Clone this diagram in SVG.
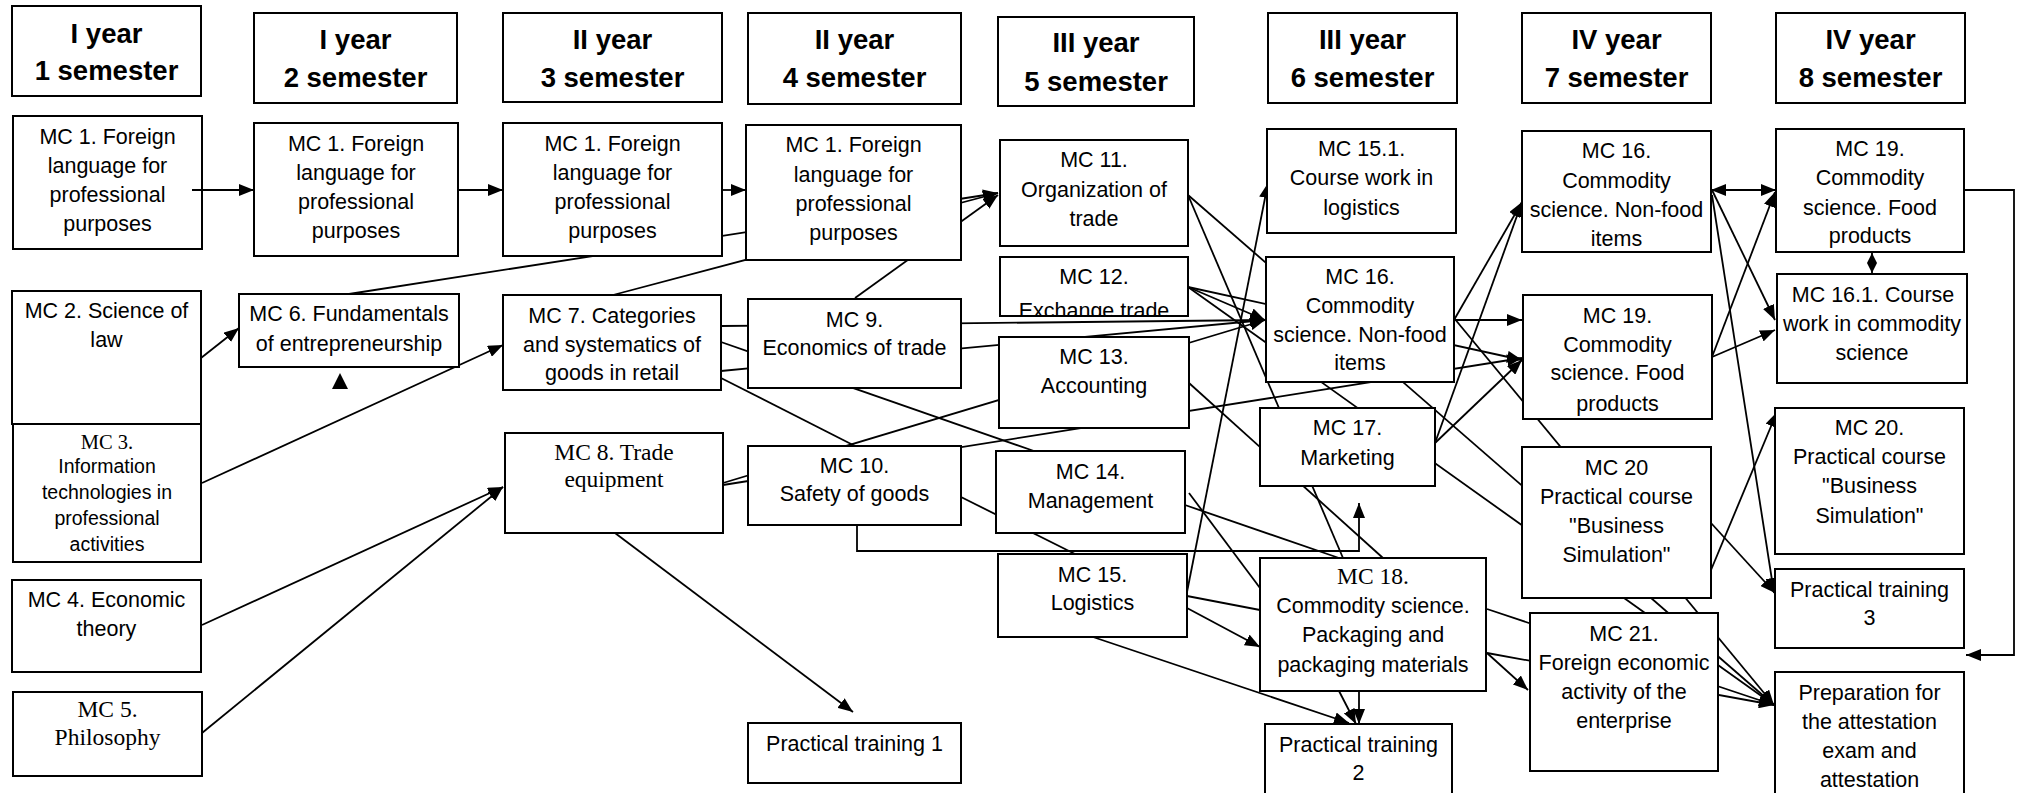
<svg xmlns="http://www.w3.org/2000/svg" width="2020" height="793" viewBox="0 0 2020 793">
<style>
.box{fill:#fff;stroke:#000;stroke-width:2}
.t{font-family:"Liberation Sans",Arial,sans-serif;font-size:21.5px;fill:#000;text-anchor:middle}
.h{font-weight:bold;font-size:27.5px}
.s{font-family:"Liberation Serif","Times New Roman",serif;font-size:23.5px}
.sm{font-size:19.5px}
.ln{stroke:#000;stroke-width:1.8;fill:none}
.ar{marker-end:url(#ah)}
.dbl{marker-start:url(#ah);marker-end:url(#ah)}
.dbs{marker-start:url(#ahs);marker-end:url(#ahs)}
</style>
<defs>
<marker id="ah" markerUnits="userSpaceOnUse" markerWidth="15" markerHeight="12" viewBox="0 0 15 12" refX="15" refY="6" orient="auto-start-reverse"><path d="M0,0 L15,6 L0,12 z" fill="#000"/></marker>
<marker id="ahs" markerUnits="userSpaceOnUse" markerWidth="10" markerHeight="10" viewBox="0 0 10 10" refX="10" refY="5" orient="auto-start-reverse"><path d="M0,0 L10,5 L0,10 z" fill="#000"/></marker>
<clipPath id="clip12"><rect x="1000" y="257" width="188" height="59"/></clipPath>
</defs>
<rect x="0" y="0" width="2020" height="793" fill="#fff"/>

<g id="connectors">
<path class="ln ar" d="M458,190 L503,190"/>
<path class="ln ar" d="M722,190 L746,190"/>
<path class="ln ar" d="M201,358 L239,328"/>
<path class="ln ar" d="M349,294 L998,193"/>
<path class="ln ar" d="M613,295 L998,193"/>
<path class="ln ar" d="M855,298 L998,195"/>
<path class="ln ar" d="M202,483 L503,345"/>
<path class="ln ar" d="M202,625 L503,487"/>
<path class="ln ar" d="M202,733 L503,487"/>
<path class="ln ar" d="M723,483 L1265,320"/>
<path class="ln ar" d="M723,485 L1522,358"/>
<path class="ln ar" d="M615,533 L853,712"/>
<path class="ln ar" d="M857,525 L857,551 L1359,551 L1359,503"/>
<path class="ln ar" d="M721,326 L1265,320"/>
<path class="ln" d="M721,342 L1034,451"/>
<path class="ln ar" d="M721,371 L1265,320"/>
<path class="ln" d="M721,378 L855,446"/>
<path class="ln" d="M961,497 L1075,554"/>
<path class="ln ar" d="M1188,195 L1774,705"/>
<path class="ln" d="M1188,195 L1343,558"/>
<path class="ln ar" d="M1188,287 L1522,360"/>
<path class="ln ar" d="M1188,287 L1265,320"/>
<path class="ln ar" d="M1188,287 L1774,705"/>
<path class="ln" d="M1189,383 L1383,558"/>
<path class="ln ar" d="M1187,592 L1268,183"/>
<path class="ln" d="M1187,596 L1260,610"/>
<path class="ln ar" d="M1187,608 L1260,647"/>
<path class="ln ar" d="M1093,637 L1349,723"/>
<path class="ln" d="M1185,505 L1339,558"/>
<path class="ln" d="M1189,493 L1260,588"/>
<path class="ln ar" d="M1454,320 L1522,320"/>
<path class="ln ar" d="M1454,320 L1522,202"/>
<path class="ln ar" d="M1454,318 L1774,705"/>
<path class="ln ar" d="M1435,443 L1522,202"/>
<path class="ln ar" d="M1435,443 L1522,360"/>
<path class="ln ar" d="M1487,609 L1774,705"/>
<path class="ln ar" d="M1487,653 L1774,705"/>
<path class="ln ar" d="M1487,653 L1528,690"/>
<path class="ln ar" d="M1359,691 L1359,724"/>
<path class="ln ar" d="M1339,691 L1356,724"/>
<path class="ln dbl" d="M1711,190 L1776,190"/>
<path class="ln ar" d="M1712,190 L1775,320"/>
<path class="ln ar" d="M1712,195 L1774,593"/>
<path class="ln ar" d="M1712,357 L1775,192"/>
<path class="ln ar" d="M1712,357 L1775,330"/>
<path class="ln dbs" d="M1872,253 L1872,273"/>
<path class="ln ar" d="M1711,570 L1777,412"/>
<path class="ln ar" d="M1711,523 L1775,593"/>
<path class="ln ar" d="M1964,190 L2014,190 L2014,655 L1966,655"/>
<polygon points="340,373 332,389 348,389" fill="#000"/>
</g>

<g id="h1"><rect class="box" x="12" y="6" width="189" height="90"/><text class="t h" x="106.5" y="43">I year</text><text class="t h" x="106.5" y="80">1 semester</text></g>
<g id="h2"><rect class="box" x="254" y="13" width="203" height="90"/><text class="t h" x="355.5" y="49">I year</text><text class="t h" x="355.5" y="87">2 semester</text></g>
<g id="h3"><rect class="box" x="503" y="13" width="219" height="89"/><text class="t h" x="612.5" y="49">II year</text><text class="t h" x="612.5" y="87">3 semester</text></g>
<g id="h4"><rect class="box" x="748" y="13" width="213" height="91"/><text class="t h" x="854.5" y="49">II year</text><text class="t h" x="854.5" y="87">4 semester</text></g>
<g id="h5"><rect class="box" x="998" y="17" width="196" height="89"/><text class="t h" x="1096" y="52">III year</text><text class="t h" x="1096" y="91">5 semester</text></g>
<g id="h6"><rect class="box" x="1268" y="13" width="189" height="90"/><text class="t h" x="1362.5" y="49">III year</text><text class="t h" x="1362.5" y="87">6 semester</text></g>
<g id="h7"><rect class="box" x="1522" y="13" width="189" height="90"/><text class="t h" x="1616.5" y="49">IV year</text><text class="t h" x="1616.5" y="87">7 semester</text></g>
<g id="h8"><rect class="box" x="1776" y="13" width="189" height="90"/><text class="t h" x="1870.5" y="49">IV year</text><text class="t h" x="1870.5" y="87">8 semester</text></g>

<g id="mc1-s1"><rect class="box" x="13" y="116" width="189" height="133"/><text class="t" x="107.5" y="144">MC 1. Foreign</text><text class="t" x="107.5" y="173">language for</text><text class="t" x="107.5" y="202">professional</text><text class="t" x="107.5" y="231">purposes</text></g>
<g id="mc1-s2"><rect class="box" x="254" y="123" width="204" height="133"/><text class="t" x="356" y="151">MC 1. Foreign</text><text class="t" x="356" y="180">language for</text><text class="t" x="356" y="209">professional</text><text class="t" x="356" y="238">purposes</text></g>
<g id="mc1-s3"><rect class="box" x="503" y="123" width="219" height="133"/><text class="t" x="612.5" y="151">MC 1. Foreign</text><text class="t" x="612.5" y="180">language for</text><text class="t" x="612.5" y="209">professional</text><text class="t" x="612.5" y="238">purposes</text></g>
<g id="mc1-s4"><rect class="box" x="746" y="125" width="215" height="135"/><text class="t" x="853.5" y="152">MC 1. Foreign</text><text class="t" x="853.5" y="182">language for</text><text class="t" x="853.5" y="211">professional</text><text class="t" x="853.5" y="240">purposes</text></g>

<g id="mc2"><rect class="box" x="12" y="291" width="189" height="133"/><text class="t" x="106.5" y="318">MC 2. Science of</text><text class="t" x="106.5" y="347">law</text></g>
<g id="mc3"><rect class="box" x="13" y="424" width="188" height="138"/><text class="t s" style="font-size:20.5px" x="107" y="449">MC 3.</text><text class="t sm" x="107" y="473">Information</text><text class="t sm" x="107" y="499">technologies in</text><text class="t sm" x="107" y="525">professional</text><text class="t sm" x="107" y="551">activities</text></g>
<g id="mc4"><rect class="box" x="12" y="580" width="189" height="92"/><text class="t" x="106.5" y="607">MC 4. Economic</text><text class="t" x="106.5" y="636">theory</text></g>
<g id="mc5"><rect class="box" x="13" y="692" width="189" height="84"/><text class="t s" x="107.5" y="717">MC 5.</text><text class="t s" x="107.5" y="745">Philosophy</text></g>

<g id="mc6"><rect class="box" x="239" y="294" width="220" height="73"/><text class="t" x="349" y="321">MC 6. Fundamentals</text><text class="t" x="349" y="351">of entrepreneurship</text></g>
<g id="mc7"><rect class="box" x="503" y="295" width="218" height="95"/><text class="t" x="612" y="323">MC 7. Categories</text><text class="t" x="612" y="352">and systematics of</text><text class="t" x="612" y="380">goods in retail</text></g>
<g id="mc8"><rect class="box" x="505" y="433" width="218" height="100"/><text class="t s" x="614" y="460">MC 8. Trade</text><text class="t s" x="614" y="487">equipment</text></g>
<g id="mc9"><rect class="box" x="748" y="299" width="213" height="89"/><text class="t" x="854.5" y="327">MC 9.</text><text class="t" x="854.5" y="355">Economics of trade</text></g>
<g id="mc10"><rect class="box" x="748" y="446" width="213" height="79"/><text class="t" x="854.5" y="473">MC 10.</text><text class="t" x="854.5" y="501">Safety of goods</text></g>
<g id="pt1"><rect class="box" x="748" y="723" width="213" height="60"/><text class="t" x="854.5" y="751">Practical training 1</text></g>

<g id="mc11"><rect class="box" x="1000" y="140" width="188" height="106"/><text class="t" x="1094" y="167">MC 11.</text><text class="t" x="1094" y="197">Organization of</text><text class="t" x="1094" y="226">trade</text></g>
<g id="mc12"><rect class="box" x="1000" y="257" width="188" height="59"/><text class="t" x="1094" y="284">MC 12.</text><text class="t" x="1094" y="318" clip-path="url(#clip12)">Exchange trade</text><rect x="1000" y="257" width="188" height="59" fill="none" stroke="#000" stroke-width="2"/></g>
<g id="mc13"><rect class="box" x="999" y="337" width="190" height="91"/><text class="t" x="1094" y="364">MC 13.</text><text class="t" x="1094" y="393">Accounting</text></g>
<g id="mc14"><rect class="box" x="996" y="451" width="189" height="82"/><text class="t" x="1090.5" y="479">MC 14.</text><text class="t" x="1090.5" y="508">Management</text></g>
<g id="mc15"><rect class="box" x="998" y="554" width="189" height="83"/><text class="t" x="1092.5" y="582">MC 15.</text><text class="t" x="1092.5" y="610">Logistics</text></g>

<g id="mc15-1"><rect class="box" x="1267" y="129" width="189" height="104"/><text class="t" x="1361.5" y="156">MC 15.1.</text><text class="t" x="1361.5" y="185">Course work in</text><text class="t" x="1361.5" y="215">logistics</text></g>
<g id="mc16-s6"><rect class="box" x="1266" y="257" width="188" height="125"/><text class="t" x="1360" y="284">MC 16.</text><text class="t" x="1360" y="313">Commodity</text><text class="t" x="1360" y="342">science. Non-food</text><text class="t" x="1360" y="370">items</text></g>
<g id="mc17"><rect class="box" x="1260" y="408" width="175" height="78"/><text class="t" x="1347.5" y="435">MC 17.</text><text class="t" x="1347.5" y="465">Marketing</text></g>
<g id="mc18"><rect class="box" x="1260" y="558" width="226" height="133"/><text class="t s" x="1373" y="584">MC 18.</text><text class="t" x="1373" y="613">Commodity science.</text><text class="t" x="1373" y="642">Packaging and</text><text class="t" x="1373" y="672">packaging materials</text></g>
<g id="pt2"><rect class="box" x="1265" y="724" width="187" height="75"/><text class="t" x="1358.5" y="752">Practical training</text><text class="t" x="1358.5" y="780">2</text></g>

<g id="mc16-s7"><rect class="box" x="1522" y="131" width="189" height="121"/><text class="t" x="1616.5" y="158">MC 16.</text><text class="t" x="1616.5" y="188">Commodity</text><text class="t" x="1616.5" y="217">science. Non-food</text><text class="t" x="1616.5" y="246">items</text></g>
<g id="mc19-s7"><rect class="box" x="1523" y="295" width="189" height="124"/><text class="t" x="1617.5" y="323">MC 19.</text><text class="t" x="1617.5" y="352">Commodity</text><text class="t" x="1617.5" y="380">science. Food</text><text class="t" x="1617.5" y="411">products</text></g>
<g id="mc20-s7"><rect class="box" x="1522" y="447" width="189" height="151"/><text class="t" x="1616.5" y="475">MC 20</text><text class="t" x="1616.5" y="504">Practical course</text><text class="t" x="1616.5" y="533">"Business</text><text class="t" x="1616.5" y="562">Simulation"</text></g>
<g id="mc21"><rect class="box" x="1530" y="613" width="188" height="158"/><text class="t" x="1624" y="641">MC 21.</text><text class="t" x="1624" y="670">Foreign economic</text><text class="t" x="1624" y="699">activity of the</text><text class="t" x="1624" y="728">enterprise</text></g>

<g id="mc19-s8"><rect class="box" x="1776" y="129" width="188" height="123"/><text class="t" x="1870" y="156">MC 19.</text><text class="t" x="1870" y="185">Commodity</text><text class="t" x="1870" y="215">science. Food</text><text class="t" x="1870" y="243">products</text></g>
<g id="mc16-1"><rect class="box" x="1777" y="274" width="190" height="109"/><text class="t" x="1873" y="302">MC 16.1. Course</text><text class="t" x="1872" y="331">work in commodity</text><text class="t" x="1872" y="360">science</text></g>
<g id="mc20-s8"><rect class="box" x="1775" y="408" width="189" height="146"/><text class="t" x="1869.5" y="435">MC 20.</text><text class="t" x="1869.5" y="464">Practical course</text><text class="t" x="1869.5" y="493">"Business</text><text class="t" x="1869.5" y="523">Simulation"</text></g>
<g id="pt3"><rect class="box" x="1775" y="569" width="189" height="79"/><text class="t" x="1869.5" y="597">Practical training</text><text class="t" x="1869.5" y="625">3</text></g>
<g id="prep"><rect class="box" x="1775" y="672" width="189" height="126"/><text class="t" x="1869.5" y="700">Preparation for</text><text class="t" x="1869.5" y="729">the attestation</text><text class="t" x="1869.5" y="758">exam and</text><text class="t" x="1869.5" y="787">attestation</text></g>

<g id="connectors-front">
<path class="ln ar" d="M192,190 L254,190"/>
</g>
</svg>
